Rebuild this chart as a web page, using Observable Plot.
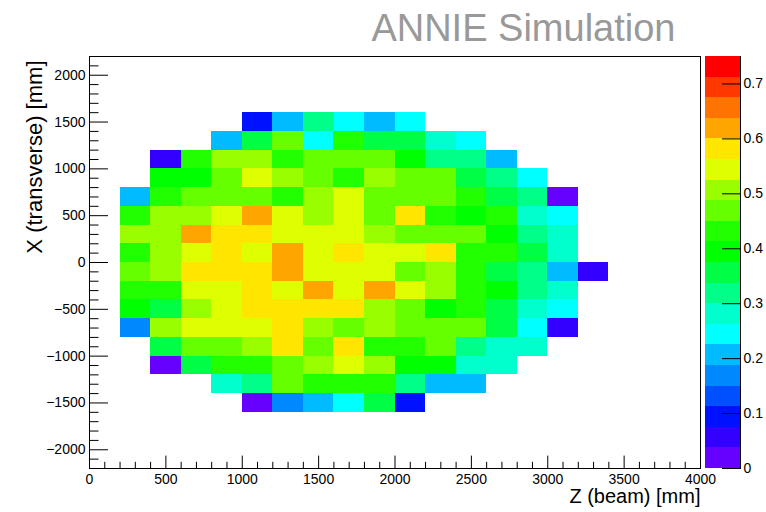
<!DOCTYPE html>
<html>
<head>
<meta charset="utf-8">
<script src="https://cdn.jsdelivr.net/npm/d3@7"></script>
<script src="https://cdn.jsdelivr.net/npm/@observablehq/plot@0.6"></script>
<style>
  html, body { margin: 0; padding: 0; background: #ffffff; }
  #chart { position: relative; width: 766px; height: 512px; overflow: hidden; background: #ffffff; }
  #chart svg { position: absolute; top: 0; overflow: visible; }
</style>
</head>
<body>
<div id="chart"></div>
<script>
// ---- Bin edges (mm) ----
const zEdges = [200, 400, 600, 800, 1000, 1200, 1400, 1600, 1800, 2000, 2200, 2400, 2600, 2800, 3000, 3200, 3400];
const xEdges = [1600, 1400, 1200, 1000, 800, 600, 400, 200, 0, -200, -400, -600, -800, -1000, -1200, -1400, -1600];

// ---- Cell values, one array per X row (top to bottom), one value per Z bin ----
const rowX1500  = [null, null, null, null, 0.09, 0.21, 0.32, 0.24, 0.21, 0.24, null, null, null, null, null, null];
const rowX1300  = [null, null, null, 0.21, 0.36, 0.47, 0.24, 0.43, 0.36, 0.36, 0.28, 0.24, null, null, null, null];
const rowX1100  = [null, 0.06, 0.43, 0.51, 0.51, 0.43, 0.47, 0.47, 0.47, 0.39, 0.32, 0.32, 0.21, null, null, null];
const rowX900   = [null, 0.39, 0.39, 0.47, 0.54, 0.51, 0.47, 0.43, 0.51, 0.47, 0.47, 0.36, 0.32, 0.24, null, null];
const rowX700   = [0.21, 0.43, 0.47, 0.47, 0.47, 0.43, 0.51, 0.54, 0.47, 0.47, 0.47, 0.43, 0.36, 0.32, 0.02, null];
const rowX500   = [0.43, 0.51, 0.51, 0.54, 0.62, 0.54, 0.51, 0.54, 0.47, 0.58, 0.43, 0.39, 0.43, 0.28, 0.24, null];
const rowX300   = [0.51, 0.51, 0.62, 0.58, 0.58, 0.54, 0.54, 0.54, 0.51, 0.47, 0.47, 0.47, 0.39, 0.32, 0.28, null];
const rowX100   = [0.43, 0.51, 0.54, 0.58, 0.54, 0.62, 0.54, 0.58, 0.54, 0.54, 0.58, 0.43, 0.43, 0.36, 0.28, null];
const rowXm100  = [0.47, 0.51, 0.58, 0.58, 0.58, 0.62, 0.54, 0.54, 0.54, 0.47, 0.51, 0.43, 0.36, 0.32, 0.21, 0.06];
const rowXm300  = [0.43, 0.43, 0.54, 0.54, 0.58, 0.54, 0.62, 0.54, 0.62, 0.54, 0.51, 0.43, 0.39, 0.32, 0.28, null];
const rowXm500  = [0.39, 0.36, 0.51, 0.54, 0.58, 0.58, 0.58, 0.58, 0.51, 0.47, 0.39, 0.43, 0.36, 0.28, 0.24, null];
const rowXm700  = [0.17, 0.51, 0.54, 0.54, 0.54, 0.58, 0.51, 0.47, 0.51, 0.47, 0.47, 0.47, 0.36, 0.24, 0.06, null];
const rowXm900  = [null, 0.36, 0.47, 0.47, 0.51, 0.58, 0.47, 0.58, 0.43, 0.43, 0.47, 0.32, 0.28, 0.28, null, null];
const rowXm1100 = [null, 0.02, 0.36, 0.43, 0.43, 0.47, 0.51, 0.54, 0.51, 0.39, 0.39, 0.28, 0.28, null, null, null];
const rowXm1300 = [null, null, null, 0.28, 0.32, 0.47, 0.43, 0.43, 0.43, 0.32, 0.21, 0.21, null, null, null, null];
const rowXm1500 = [null, null, null, null, 0.02, 0.17, 0.21, 0.24, 0.36, 0.09, null, null, null, null, null, null];

// ---- Axis ticks and labels ----
const xMajorTicks = [0, 500, 1000, 1500, 2000, 2500, 3000, 3500, 4000];
const yMajorTicks = [-2000, -1500, -1000, -500, 0, 500, 1000, 1500, 2000];
const colorbarTicks = [0, 0.1, 0.2, 0.3, 0.4, 0.5, 0.6, 0.7];
const colorLevels = [0, 0.0375, 0.075, 0.1125, 0.15, 0.1875, 0.225, 0.2625, 0.3, 0.3375, 0.375,
                     0.4125, 0.45, 0.4875, 0.525, 0.5625, 0.6, 0.6375, 0.675, 0.7125, 0.75];
const palette = ["#6600ff", "#3300ff", "#0011ff", "#0050ff", "#0088ff", "#00bbff", "#00ffff", "#00ffcc",
                 "#00ff88", "#00ff44", "#00ff00", "#22ff00", "#66ff00", "#99ff00", "#ddff00", "#ffe600",
                 "#ffa500", "#ff7300", "#ff3800", "#ff0000"];

const titleText = "ANNIE Simulation";
const xTitle = "Z (beam) [mm]";
const yTitle = "X (transverse) [mm]";

// ---- Build table ----
const rows = [rowX1500, rowX1300, rowX1100, rowX900, rowX700, rowX500, rowX300, rowX100,
              rowXm100, rowXm300, rowXm500, rowXm700, rowXm900, rowXm1100, rowXm1300, rowXm1500];
const cells = [];
rows.forEach((r, i) => r.forEach((v, j) => {
  if (v != null) cells.push({z1: zEdges[j], z2: zEdges[j + 1], x1: xEdges[i + 1], x2: xEdges[i], v});
}));

const xMinor = d3.range(0, 4001, 100).filter(d => !xMajorTicks.includes(d));
const yMinor = d3.range(-2100, 2101, 100).filter(d => !yMajorTicks.includes(d));

const FONT = "'Liberation Sans', Arial, Helvetica, sans-serif";
const colorScale = {type: "threshold", domain: colorLevels.slice(1, -1), range: palette};

const W = 766, H = 512;
const mL = 89, mR = 66, mT = 56, mB = 44;
const frameW = W - mL - mR, frameH = H - mT - mB;
const yTickLen = 19, xTickLen = 12.4;
const minus = d => d < 0 ? "\u2212" + (-d) : String(d);

const main = Plot.plot({
  width: W, height: H,
  marginLeft: mL, marginRight: mR, marginTop: mT, marginBottom: mB,
  style: {fontFamily: FONT, fontSize: "14px", background: "transparent", color: "#000"},
  x: {domain: [0, 4000]},
  y: {domain: [-2200, 2200]},
  color: colorScale,
  marks: [
    Plot.rect(cells, {x1: "z1", x2: "z2", y1: "x1", y2: "x2", fill: "v", shapeRendering: "crispEdges"}),
    Plot.tickY(yMajorTicks, {y: d => d, insetRight: frameW - yTickLen, stroke: "#000"}),
    Plot.tickY(yMinor, {y: d => d, insetRight: frameW - yTickLen / 2, stroke: "#000"}),
    Plot.tickX(xMajorTicks, {x: d => d, insetTop: frameH - xTickLen, stroke: "#000"}),
    Plot.tickX(xMinor, {x: d => d, insetTop: frameH - xTickLen / 2, stroke: "#000"}),
    Plot.frame({stroke: "#000", strokeWidth: 1}),
    Plot.axisY({ticks: yMajorTicks, tickSize: 0, tickPadding: 4, tickFormat: minus, label: null, fontSize: 14, fill: "#000"}),
    Plot.axisX({ticks: xMajorTicks, tickSize: 0, tickPadding: 6, tickFormat: d => String(d), label: null, fontSize: 14, fill: "#000"}),
    Plot.text([xTitle], {frameAnchor: "bottom-right", textAnchor: "end", lineAnchor: "bottom", dy: 34, fontSize: 20, fill: "#000"}),
    Plot.text([yTitle], {frameAnchor: "top-left", textAnchor: "end", lineAnchor: "middle", rotate: -90, dx: -55, dy: 4, fontSize: 22, fill: "#000"}),
    Plot.text([titleText], {frameAnchor: "top-right", textAnchor: "end", lineAnchor: "bottom", dx: -25, dy: -16, fontSize: 38, fill: "#999999"})
  ]
});
main.style.left = "0px";

// ---- Colour bar ----
const bands = colorLevels.slice(0, -1).map((lo, i) => ({lo, hi: colorLevels[i + 1]}));
const cbW = 76, cbLeft = 690;
const cbmL = 15, cbmR = 26;
const cbTickLen = 18;
const colorbar = Plot.plot({
  width: cbW, height: H,
  marginLeft: cbmL, marginRight: cbmR, marginTop: mT, marginBottom: mB,
  style: {fontFamily: FONT, fontSize: "14px", background: "transparent", color: "#000", overflow: "visible"},
  y: {domain: [colorLevels[0], colorLevels[colorLevels.length - 1]]},
  color: colorScale,
  marks: [
    Plot.rect(bands, {y1: "lo", y2: "hi", fill: "lo", shapeRendering: "crispEdges"}),
    Plot.tickY(colorbarTicks, {y: d => d, insetLeft: (cbW - cbmL - cbmR) - cbTickLen, stroke: "#000"}),
    Plot.frame({anchor: "right", stroke: "#000"}),
    Plot.axisY({anchor: "right", ticks: colorbarTicks, tickSize: 0, tickPadding: 3,
                tickFormat: d => d === 0 ? "0" : d.toFixed(1), label: null, fontSize: 14, fill: "#000"})
  ]
});
colorbar.style.left = cbLeft + "px";

const chart = document.getElementById("chart");
chart.appendChild(main);
chart.appendChild(colorbar);
</script>
</body>
</html>
